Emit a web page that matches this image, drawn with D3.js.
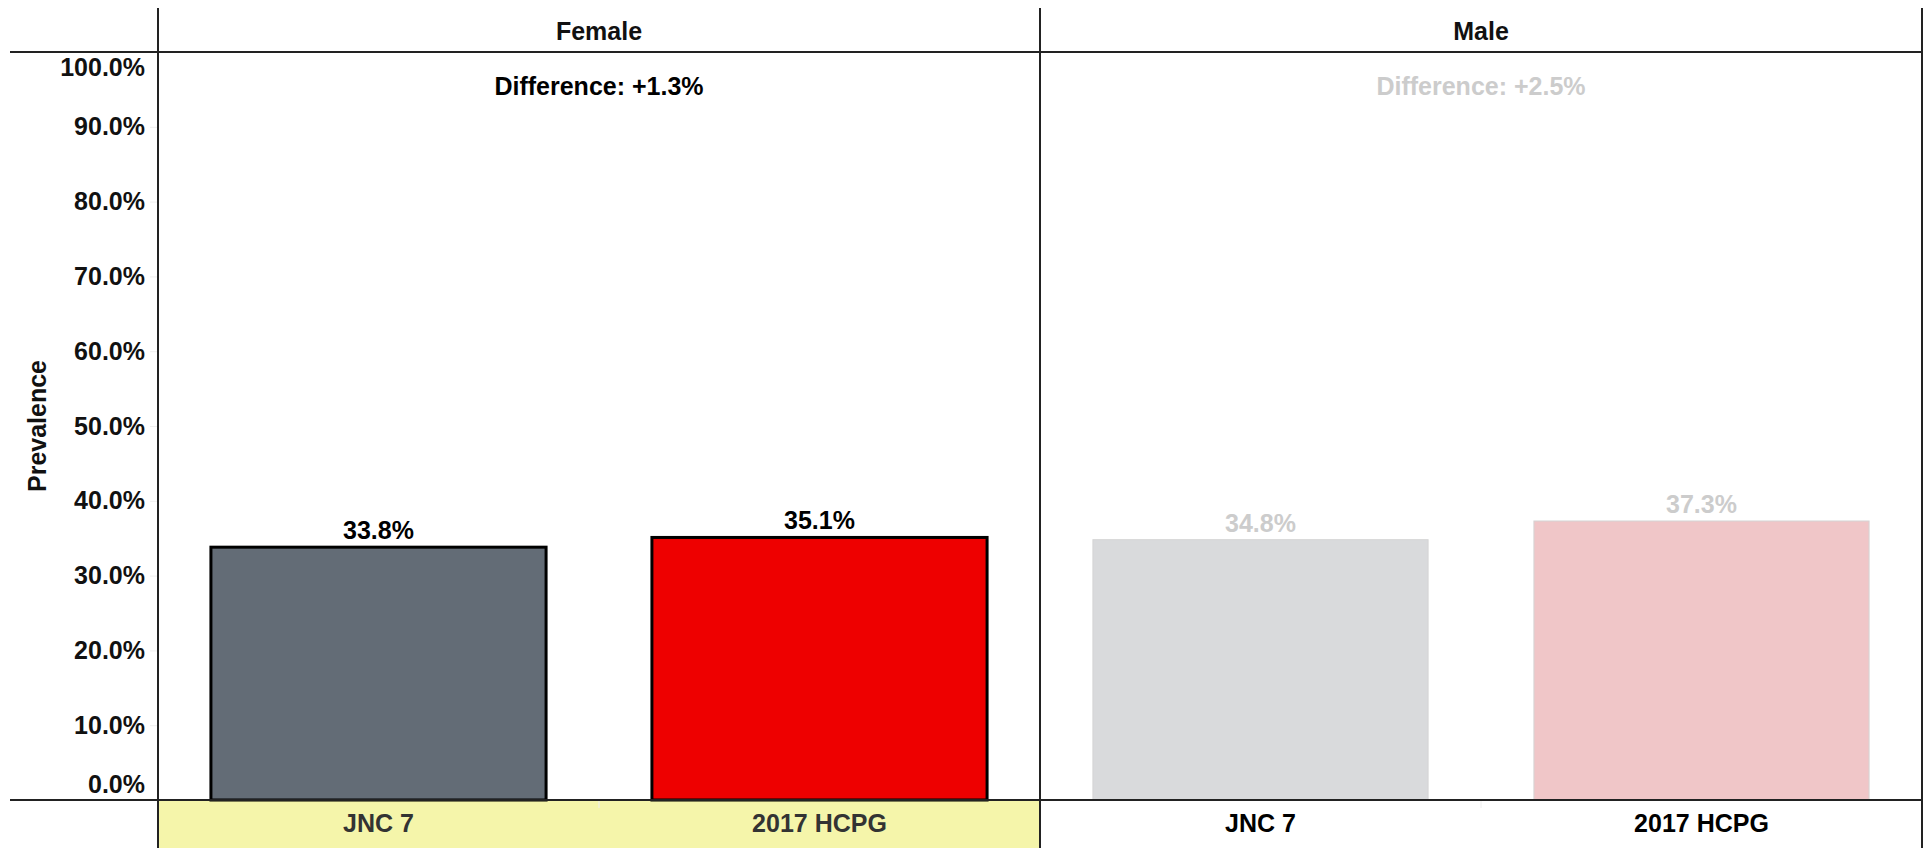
<!DOCTYPE html>
<html>
<head>
<meta charset="utf-8">
<script src="https://cdn.jsdelivr.net/npm/d3@7"></script>
<style>
  body { margin: 0; background: #fff; }
  text { font-family: "Liberation Sans", Arial, sans-serif; font-weight: bold; }
</style>
</head>
<body>
<svg id="chart"></svg>
<script>
const facets = ["Female", "Male"];
const categories = ["JNC 7", "2017 HCPG"];
const femaleValues = [33.8, 35.1];
const maleValues = [34.8, 37.3];
const differences = ["+1.3%", "+2.5%"];
const yTicks = [0, 10, 20, 30, 40, 50, 60, 70, 80, 90, 100];

const width = 1927;
const height = 848;
const plotLeft = 158;
const plotRight = 1922;
const plotTop = 52;
const plotBottom = 800;

const svg = d3.select("#chart")
    .attr("width", width)
    .attr("height", height);

// facet scale
const fx = d3.scaleBand()
    .domain(facets)
    .range([plotLeft, plotRight]);

// y scale
const y = d3.scaleLinear()
    .domain([0, 100])
    .range([plotBottom, plotTop]);

// x scale inside one facet
const x = d3.scaleBand()
    .domain(categories)
    .range([0, fx.bandwidth()])
    .paddingInner(0.24)
    .paddingOuter(0.12);

const series = {
    Female: { values: femaleValues, fills: ["#636c76", "#ee0000"], stroke: "#000", sw: 3, text: "#000", xText: "#333" },
    Male: { values: maleValues, fills: ["#d9dadc", "#f0c6c8"], stroke: "#d4d4d4", sw: 1, text: "#cccccc", xText: "#000" }
};

// highlighted facet background below axis
svg.append("rect")
    .attr("x", fx("Female"))
    .attr("y", plotBottom)
    .attr("width", fx.bandwidth())
    .attr("height", height - plotBottom)
    .attr("fill", "#f5f5aa");

// y axis
const yAxis = svg.append("g")
    .attr("transform", `translate(${plotLeft},0)`)
    .call(d3.axisLeft(y).tickValues(yTicks).tickFormat(d => d.toFixed(1) + "%").tickSize(8).tickPadding(5));
yAxis.select(".domain").remove();
yAxis.selectAll(".tick line").attr("stroke", "#eeeeee");
yAxis.selectAll(".tick text")
    .attr("font-size", 25)
    .attr("fill", "#111")
    .attr("dy", d => d === 100 ? "0.95em" : d === 0 ? "-0.3em" : "0.32em");

svg.append("text")
    .attr("transform", `translate(37,${(plotTop + plotBottom) / 2}) rotate(-90)`)
    .attr("text-anchor", "middle")
    .attr("dominant-baseline", "central")
    .attr("font-size", 25)
    .attr("fill", "#111")
    .text("Prevalence");

// facets
facets.forEach((f, fi) => {
    const s = series[f];
    const g = svg.append("g").attr("transform", `translate(${fx(f)},0)`);

    g.append("text")
        .attr("x", fx.bandwidth() / 2)
        .attr("y", 31)
        .attr("text-anchor", "middle")
        .attr("dominant-baseline", "central")
        .attr("font-size", 25)
        .attr("fill", "#111")
        .text(f);

    g.append("text")
        .attr("x", fx.bandwidth() / 2)
        .attr("y", 86)
        .attr("text-anchor", "middle")
        .attr("dominant-baseline", "central")
        .attr("font-size", 25)
        .attr("fill", s.text)
        .text("Difference: " + differences[fi]);

    g.selectAll(".bar")
        .data(s.values)
        .enter()
        .append("rect")
        .attr("class", "bar")
        .attr("x", (_, i) => x(categories[i]))
        .attr("y", d => y(d))
        .attr("width", x.bandwidth())
        .attr("height", d => plotBottom - y(d))
        .attr("fill", (_, i) => s.fills[i])
        .attr("stroke", s.stroke)
        .attr("stroke-width", s.sw);

    g.selectAll(".label")
        .data(s.values)
        .enter()
        .append("text")
        .attr("class", "label")
        .attr("x", (_, i) => x(categories[i]) + x.bandwidth() / 2)
        .attr("y", d => y(d) - 8)
        .attr("text-anchor", "middle")
        .attr("font-size", 25)
        .attr("fill", s.text)
        .text(d => d.toFixed(1) + "%");

    g.selectAll(".xlab")
        .data(categories)
        .enter()
        .append("text")
        .attr("class", "xlab")
        .attr("x", d => x(d) + x.bandwidth() / 2)
        .attr("y", 823)
        .attr("text-anchor", "middle")
        .attr("dominant-baseline", "central")
        .attr("font-size", 25)
        .attr("fill", s.xText)
        .text(d => d);

    // faint tick between categories
    g.append("line")
        .attr("x1", fx.bandwidth() / 2).attr("x2", fx.bandwidth() / 2)
        .attr("y1", plotBottom).attr("y2", plotBottom + 8)
        .attr("stroke", "#eeeeee");
});

// frame lines
[plotTop, plotBottom].forEach(yy => {
    svg.append("line")
        .attr("x1", 10).attr("x2", plotRight)
        .attr("y1", yy).attr("y2", yy)
        .attr("stroke", "#222")
        .attr("stroke-width", 2);
});
[plotLeft, fx("Male"), plotRight].forEach(xx => {
    svg.append("line")
        .attr("x1", xx).attr("x2", xx)
        .attr("y1", 8).attr("y2", height)
        .attr("stroke", "#222")
        .attr("stroke-width", 2);
});
</script>
</body>
</html>
